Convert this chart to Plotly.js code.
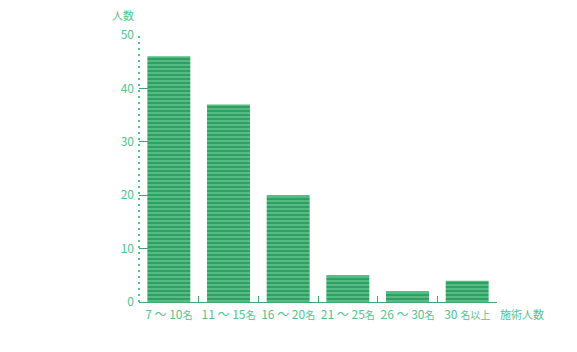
<!DOCTYPE html>
<html><head><meta charset="utf-8">
<script src="https://cdn.plot.ly/plotly-3.0.1.min.js"></script>
<style>body{margin:0;background:#fff}#c{width:577px;height:352px}</style>
</head><body><div id="c"></div>
<script>
const categories = ["7～10名", "11～15名", "16～20名", "21～25名", "26～30名", "30名以上"];
const tickLabels = [
  "7 ～ 10<span style='font-size:10px'>名</span>",
  "11 ～ 15<span style='font-size:10px'>名</span>",
  "16 ～ 20<span style='font-size:10px'>名</span>",
  "21 ～ 25<span style='font-size:10px'>名</span>",
  "26 ～ 30<span style='font-size:10px'>名</span>",
  "30 <span style='font-size:10px'>名以上</span>"
];
const values = [46, 37, 20, 5, 2, 4];
const yTicks = [0, 10, 20, 30, 40, 50];

const green = "#3aaa6e";
const textGreen = "#52c48e";
const font = {family: "'Noto Sans CJK JP', 'Noto Sans', sans-serif", size: 11, color: textGreen};

const trace = {
  type: "bar",
  x: categories,
  y: values,
  marker: {
    color: "#2f9f63",
    line: {width: 0},
    pattern: {shape: "-", fgcolor: "#55bb82", bgcolor: "#2f9f63", size: 4, solidity: 0.5, fillmode: "replace"}
  },
  hoverinfo: "none"
};

const layout = {
  width: 577, height: 352,
  margin: {l: 139, r: 80, t: 35, b: 50},
  paper_bgcolor: "#fff", plot_bgcolor: "#fff",
  font: font,
  bargap: 0.28,
  showlegend: false,
  xaxis: {
    tickmode: "array", tickvals: categories, ticktext: tickLabels,
    tickangle: 0,
    showline: true, linecolor: green, linewidth: 1,
    ticks: "inside", tickson: "boundaries", ticklen: 6, tickcolor: green, tickwidth: 1,
    showgrid: false, zeroline: false,
    tickfont: {family: font.family, size: 12, color: textGreen},
    ticklabelstandoff: 2,
    fixedrange: true
  },
  yaxis: {
    range: [0, 50], tickmode: "array", tickvals: yTicks,
    showline: false, ticks: "inside", ticklen: 9, tickcolor: green, tickwidth: 1,
    showgrid: false, zeroline: false,
    tickfont: {family: font.family, size: 12, color: textGreen},
    ticklabelstandoff: 4,
    fixedrange: true
  },
  shapes: [{
    type: "line", xref: "paper", yref: "paper", x0: 0, x1: 0, y0: 0, y1: 1,
    line: {color: textGreen, width: 2, dash: "2px,4px"}, layer: "above"
  }],
  annotations: [
    {text: "人数", xref: "paper", yref: "paper", x: 0, y: 1, xanchor: "right", yanchor: "bottom",
     xshift: -3, yshift: 10, showarrow: false, font: {family: font.family, size: 11, color: textGreen}},
    {text: "施術人数", xref: "paper", yref: "paper", x: 1, y: 0, xanchor: "left", yanchor: "top",
     xshift: 1, yshift: -2, showarrow: false, font: {family: font.family, size: 11, color: textGreen}}
  ]
};

Plotly.newPlot("c", [trace], layout, {displayModeBar: false, staticPlot: true});
</script></body></html>
